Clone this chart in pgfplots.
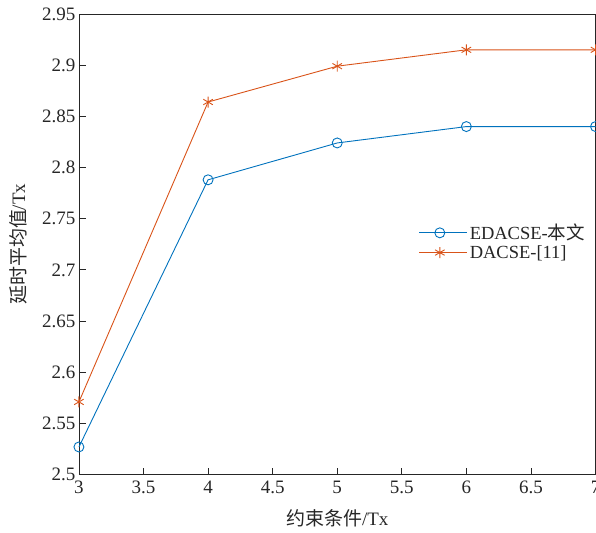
\documentclass[border=0pt]{standalone}
\usepackage{pgfplots}
\pgfplotsset{compat=1.18}
\usepackage{fontspec}
\setmainfont{Liberation Serif}
\newfontfamily\cjk{Noto Sans CJK SC}
\definecolor{mblue}{rgb}{0,0.447,0.741}
\definecolor{morange}{rgb}{0.85,0.325,0.098}
\definecolor{axgray}{rgb}{0.15,0.15,0.15}
\begin{document}
\begin{tikzpicture}
\useasboundingbox (-79pt,-58pt) rectangle (517.5pt,475pt);
\begin{axis}[
  at={(0pt,0pt)}, anchor=south west,
  scale only axis, width=517pt, height=461pt,
  xmin=3, xmax=7, ymin=2.5, ymax=2.95,
  xtick={3,3.5,...,7}, ytick={2.5,2.55,...,2.96},
  tick label style={font=\fontsize{19}{22}\selectfont, text=axgray},
  yticklabel style={/pgf/number format/.cd,fixed,precision=2},
  xticklabel style={yshift=-3pt,/pgf/number format/.cd,fixed,precision=1},
  /pgf/number format/assume math mode=true,
  tick align=inside, tick pos=both,
  major tick length=7pt,
  axis line style={axgray, line width=0.8pt},
  every tick/.style={axgray, line width=0.8pt},
  xtick pos=bottom, ytick pos=left,
  ylabel={{\cjk 延时平均值}/Tx},
  xlabel={{\cjk 约束条件}/Tx},
  label style={font=\fontsize{19}{22}\selectfont, text=axgray},
  ylabel style={at={(-0.118,0.5)}, anchor=center},
  xlabel style={at={(0.5,-0.095)}, anchor=center},
  legend style={at={(0.65,0.505)}, anchor=west, draw=none, fill=white,
    font=\fontsize{18.5}{22}\selectfont, text=axgray, row sep=0pt,
    inner sep=4pt, nodes={inner sep=2pt}},
  legend cell align=left,
  legend image code/.code={%
    \draw[mark repeat=2,mark phase=2] plot coordinates {(0pt,0pt) (20.5pt,0pt) (41pt,0pt)};
    \path (41pt,0pt) -- (48pt,0pt);},
  clip=false,
]
\addplot[mblue, line width=0.9pt, mark=o, mark size=5pt, mark options={line width=0.9pt}]
  coordinates {(3,2.527) (4,2.788) (5,2.824) (6,2.840) (7,2.840)};
\addlegendentry{EDACSE-{\cjk 本文}}
\addplot[morange, line width=0.9pt, mark=asterisk, mark size=5.5pt, mark options={line width=0.9pt}]
  coordinates {(3,2.571) (4,2.864) (5,2.899) (6,2.915) (7,2.915)};
\addlegendentry{DACSE-[11]}
\end{axis}
\end{tikzpicture}
\end{document}
